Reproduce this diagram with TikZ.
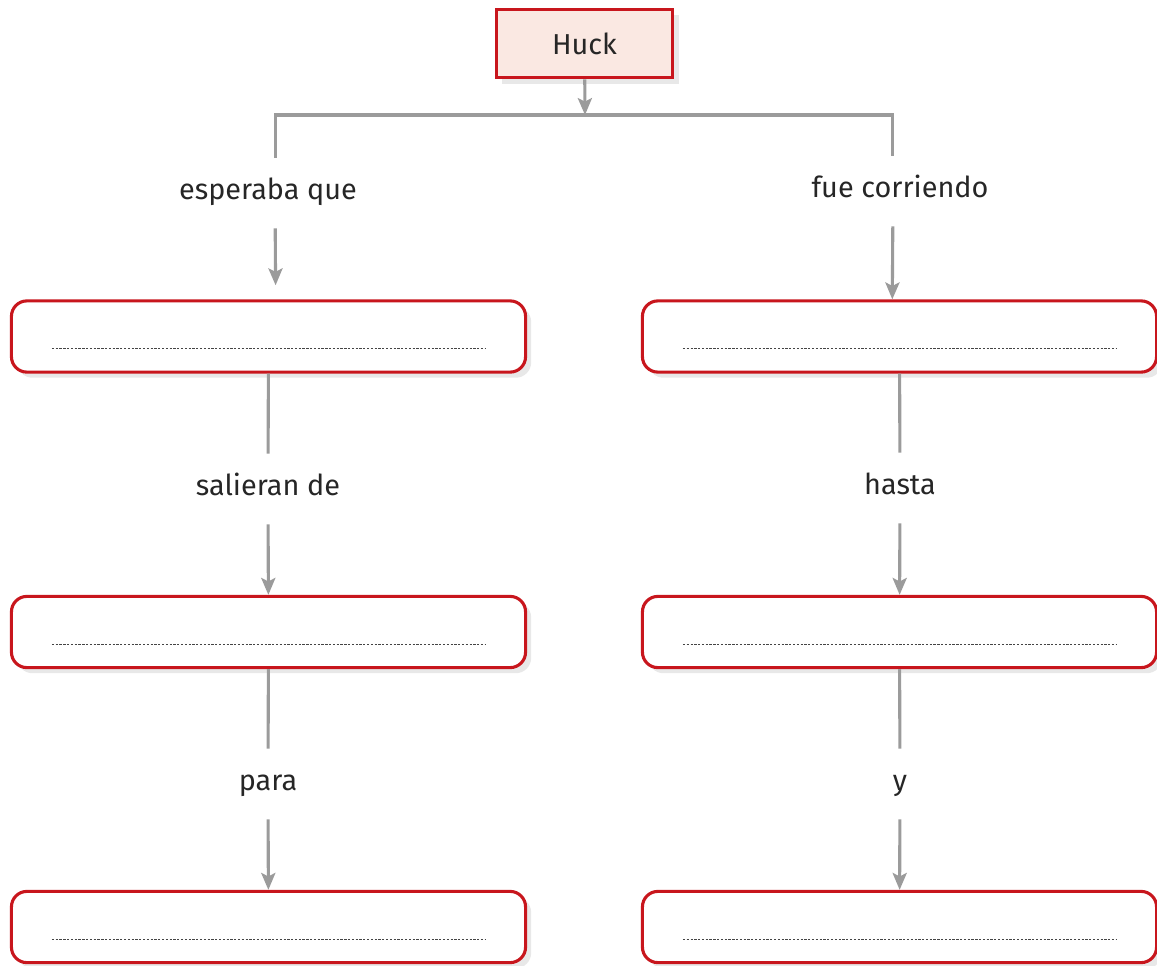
\documentclass[tikz,border=0pt]{standalone}
\usepackage{fontspec}
\setmainfont{Fira Sans}
\usetikzlibrary{positioning,shadows,arrows.meta}
\definecolor{boxred}{HTML}{C8161D}
\definecolor{huckfill}{HTML}{FAE8E2}
\definecolor{linkgray}{HTML}{9B9B9B}
\definecolor{dotgray}{HTML}{444444}

\begin{document}
\begin{tikzpicture}[
	x=0.025cm, y=-0.025cm,
	font=\fontsize{20.5}{24}\selectfont,
	answer/.style={draw=boxred, line width=2.2pt, rounded corners=11pt, fill=white,
		minimum width=12.85cm, minimum height=1.78cm,
		drop shadow={shadow xshift=4pt, shadow yshift=-4pt, opacity=0.18}},
	topic/.style={draw=boxred, line width=2.2pt, fill=huckfill, text=black!85,
		minimum width=4.42cm, minimum height=1.72cm,
		drop shadow={shadow xshift=4pt, shadow yshift=-4pt, opacity=0.18}},
	word/.style={inner sep=0pt, minimum height=1.75cm, text=black!85,
		text height=2.1ex, text depth=0.4ex},
	link/.style={draw=linkgray, line width=2.2pt},
	arrowlink/.style={link, -{Stealth[length=12pt, width=10pt, inset=2.5pt]}},
	dotline/.style={draw=dotgray, line width=0.9pt, dash pattern=on 1.6pt off 1.1pt}
	]
\useasboundingbox (0,0) rectangle (1157,966);

% title box
\node[topic] (huck) at (584.5,43.5) {Huck};
\coordinate (split) at (585,115);

% answer boxes
\node[answer] (l1) at (268.5,336.5) {};
\node[answer] (l2) at (268.5,632) {};
\node[answer] (l3) at (268.5,927) {};
\node[answer] (r1) at (899.5,336.5) {};
\node[answer] (r2) at (899.5,632) {};
\node[answer] (r3) at (899.5,927) {};

% dotted writing lines
\foreach \b in {l1,l2,l3,r1,r2,r3}
	\draw[dotline] ([xshift=1.05cm, yshift=0.62cm]\b.south west) -- ([xshift=-1.05cm, yshift=0.62cm]\b.south east);

% linking words
\node[word] (esp) at (268,193) {esperaba que};
\node[word] (fue) at (900,191) {fue corriendo};
\node[word] (sal) at (268,489) {salieran de};
\node[word] (has) at (900,488) {hasta};
\node[word] (par) at (268,784) {para};
\node[word] (yy) at (900,784) {y};

% connectors
\draw[arrowlink] (huck) -- (split);
\draw[link] ([xshift=0.18cm]esp.north) |- (split) -| ([xshift=-0.18cm]fue.north);
\draw[arrowlink, shorten >=10pt] ([xshift=0.18cm]esp.south) -- ([xshift=0.18cm]l1.north);
\draw[arrowlink] ([xshift=-0.18cm]fue.south) -- ([xshift=-0.18cm]r1.north);

\draw[link] (l1) -- (sal);
\draw[arrowlink] (sal) -- (l2);
\draw[link] (l2) -- (par);
\draw[arrowlink] (par) -- (l3);

\draw[link] (r1) -- (has);
\draw[arrowlink] (has) -- (r2);
\draw[link] (r2) -- (yy);
\draw[arrowlink] (yy) -- (r3);
\end{tikzpicture}
\end{document}
